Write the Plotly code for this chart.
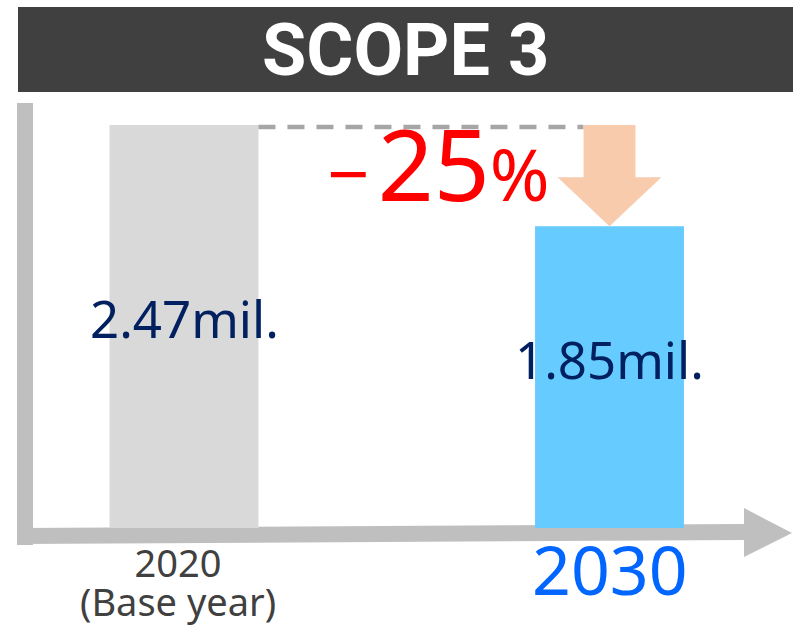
import plotly.graph_objects as go

# Scope 3 emissions (million t-CO2)
categories = ["2020", "2030"]
emissions = [2.47, 1.85]
tick_labels = [["2020", "(Base year)"], ["2030"]]
bar_colors = ["#d9d9d9", "#66ccff"]
tick_colors = ["#404040", "#0066ff"]
tick_sizes = [38, 68]
title_text = "SCOPE 3"

W, H = 797, 626
# pixel geometry of the axes: category 0 centred at x=184px, one category = 425.5px,
# value 0 at y=528px, one million t = 163.16px
X0_PX, X_UNIT = 184, 425.5
Y0_PX, Y_UNIT = 528, 163.16


def px_x(p):
    return p / W


def px_y(p):
    return 1 - p / H


x_pos = list(range(len(categories)))
bar_width = 0.35
reduction = round((emissions[1] - emissions[0]) / emissions[0] * 100)

fig = go.Figure(
    go.Bar(
        x=x_pos,
        y=emissions,
        width=bar_width,
        marker=dict(color=bar_colors, line_width=0),
        hoverinfo="skip",
    )
)

shapes = []
# title banner
shapes.append(dict(type="rect", xref="paper", yref="paper",
                   x0=px_x(18), x1=px_x(793), y0=px_y(92), y1=px_y(7),
                   fillcolor="#404040", line_width=0, layer="below"))
# vertical axis
shapes.append(dict(type="rect", xref="paper", yref="paper",
                   x0=px_x(17), x1=px_x(33), y0=px_y(545), y1=px_y(103),
                   fillcolor="#bfbfbf", line_width=0, layer="below"))
# horizontal axis with arrow head
ax_path = "M {} {} L {} {} L {} {} L {} {} Z".format(
    px_x(17), px_y(528), px_x(745), px_y(524),
    px_x(745), px_y(540), px_x(17), px_y(544))
shapes.append(dict(type="path", xref="paper", yref="paper", path=ax_path,
                   fillcolor="#bfbfbf", line_width=0, layer="below"))
head_path = "M {} {} L {} {} L {} {} Z".format(
    px_x(744), px_y(508), px_x(792), px_y(533), px_x(744), px_y(557))
shapes.append(dict(type="path", xref="paper", yref="paper", path=head_path,
                   fillcolor="#bfbfbf", line_width=0, layer="below"))

# dashed reference at the base-year level
shaft = 0.061
head = 0.122
shapes.append(dict(type="line", xref="x", yref="y",
                   x0=x_pos[0] + bar_width / 2, x1=x_pos[1] - shaft,
                   y0=emissions[0] - 0.012, y1=emissions[0] - 0.012,
                   line=dict(color="#a6a6a6", width=4.5, dash="17px,12px")))

# reduction arrow from base-year level down to the target level
yh = emissions[1] + 0.30
c = x_pos[1]
arrow_path = ("M {a} {t} L {b} {t} L {b} {h} L {d} {h} L {c} {e} "
              "L {f} {h} L {a} {h} Z").format(
    a=c - shaft, b=c + shaft, d=c + head, f=c - head, c=c,
    t=emissions[0], h=yh, e=emissions[1])
shapes.append(dict(type="path", xref="x", yref="y", path=arrow_path,
                   fillcolor="#f8cbad", line_width=0))

annotations = []
annotations.append(dict(text=title_text, xref="paper", yref="paper",
                        x=px_x(405), y=px_y(50), showarrow=False,
                        xanchor="center", yanchor="middle",
                        font=dict(family="Roboto", size=72, color="white", weight="bold")))

value_shift = [9, 18]
for i, v in enumerate(emissions):
    annotations.append(dict(text=f"{v:.2f}mil.", xref="x", yref="y",
                            x=x_pos[i], y=v / 2, yshift=value_shift[i],
                            showarrow=False, xanchor="center", yanchor="middle",
                            font=dict(family="Noto Sans", size=51, color="#002060")))

# category labels; the base font size sets the (tight) line pitch, spans set glyph size
tick_xshift = [-6, 0]
tick_yshift = [-6, 8]
for i, lines in enumerate(tick_labels):
    size = tick_sizes[i]
    text = "<br>".join(f"<span style='font-size:{size}px'>{ln}</span>" for ln in lines)
    annotations.append(dict(text=text, xref="x", yref="y",
                            x=x_pos[i], y=0, xshift=tick_xshift[i],
                            yshift=tick_yshift[i],
                            showarrow=False, xanchor="center", yanchor="top",
                            font=dict(family="Noto Sans", size=size if len(lines) == 1 else 30,
                                      color=tick_colors[i])))

pct = abs(reduction)
annotations.append(dict(
    text=(f"<span style='font-size:74px'>−</span><span style='font-size:50px'>\u2009</span>"
          f"{pct}<span style='font-size:72px'>%</span>"),
    xref="paper", yref="paper", x=px_x(438), y=px_y(163),
    showarrow=False, xanchor="center", yanchor="middle",
    font=dict(family="Noto Sans", size=98, color="#ff0000")))

fig.update_layout(
    width=W, height=H,
    margin=dict(l=0, r=0, t=0, b=0),
    paper_bgcolor="white", plot_bgcolor="white",
    showlegend=False,
    xaxis=dict(visible=False, range=[-X0_PX / X_UNIT, (W - X0_PX) / X_UNIT], fixedrange=True),
    yaxis=dict(visible=False, range=[-(H - Y0_PX) / Y_UNIT, Y0_PX / Y_UNIT], fixedrange=True),
    shapes=shapes,
    annotations=annotations,
)

fig.write_html("out.html")
